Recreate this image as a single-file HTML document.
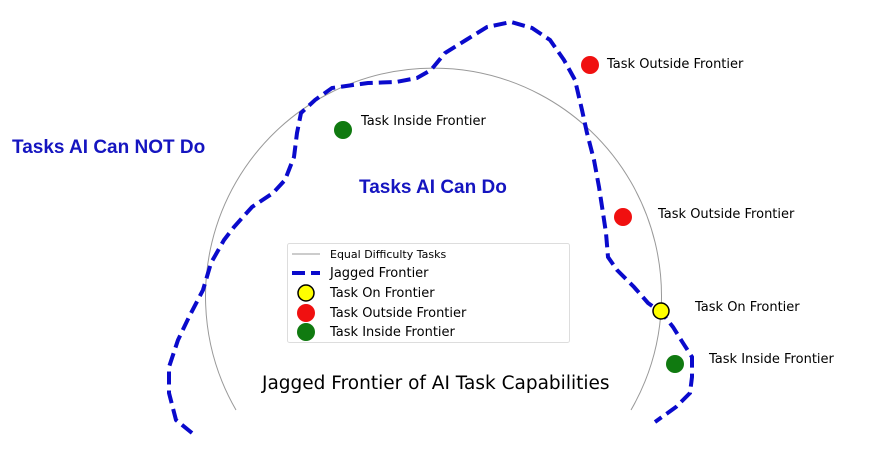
<!DOCTYPE html>
<html><head><style>body{margin:0;background:#fff}</style></head><body>
<svg width="869" height="445" viewBox="0 0 869 445" xmlns="http://www.w3.org/2000/svg" font-family="'DejaVu Sans','Liberation Sans',sans-serif">
<path d="M236,410 A228,228 0 1 1 631,410" fill="none" stroke="#999" stroke-width="1"/>
<polyline fill="none" stroke="#0a0acc" stroke-width="4" stroke-dasharray="13,6" points="192,433 176,420 169,393 169,367 178,340 189,317 203,290 211,263 224,240 234,227 252,207 273,193 285,180 294,157 297,133 301,113 315,100 332,88 353,85 368,83 396,82 417,78 431,70 445,53 466,40 487,27 511,22 532,28 550,40 564,60 575,80 582,110 587,133 594,160 599,187 603,213 606,233 608,257 617,270 634,287 648,303 662,313 673,327 683,343 692,357 692,377 690,393 676,407 655,422"/>
<text x="12" y="153" font-family="'Liberation Sans',sans-serif" font-weight="bold" font-size="19" fill="#1515c0">Tasks AI Can NOT Do</text>
<text x="359" y="193" font-family="'Liberation Sans',sans-serif" font-weight="bold" font-size="19" fill="#1515c0">Tasks AI Can Do</text>
<circle cx="590" cy="65" r="9" fill="#f01010"/><text x="607" y="68" font-size="13">Task Outside Frontier</text>
<circle cx="343" cy="130" r="9" fill="#107a10"/><text x="361" y="125" font-size="13">Task Inside Frontier</text>
<circle cx="623" cy="217" r="9" fill="#f01010"/><text x="658" y="218" font-size="13">Task Outside Frontier</text>
<circle cx="661" cy="311" r="8" fill="#ffff00" stroke="#000" stroke-width="1.5"/><text x="695" y="311" font-size="13">Task On Frontier</text>
<circle cx="675" cy="364" r="9" fill="#107a10"/><text x="709" y="363" font-size="13">Task Inside Frontier</text>
<rect x="287.5" y="243.5" width="282" height="99" rx="2" fill="#fff" stroke="#ddd"/>
<line x1="292" y1="254" x2="320" y2="254" stroke="#999"/>
<text x="330" y="258" font-size="11">Equal Difficulty Tasks</text>
<line x1="292" y1="273" x2="320" y2="273" stroke="#0a0acc" stroke-width="4" stroke-dasharray="13,6"/>
<text x="330" y="277" font-size="13">Jagged Frontier</text>
<circle cx="306" cy="293" r="8" fill="#ffff00" stroke="#000" stroke-width="1.5"/><text x="330" y="297" font-size="13">Task On Frontier</text>
<circle cx="306" cy="313" r="9" fill="#f01010"/><text x="330" y="317" font-size="13">Task Outside Frontier</text>
<circle cx="306" cy="332" r="9" fill="#107a10"/><text x="330" y="336" font-size="13">Task Inside Frontier</text>
<text x="262" y="389" font-size="18.5">Jagged Frontier of AI Task Capabilities</text>
</svg>
</body></html>
